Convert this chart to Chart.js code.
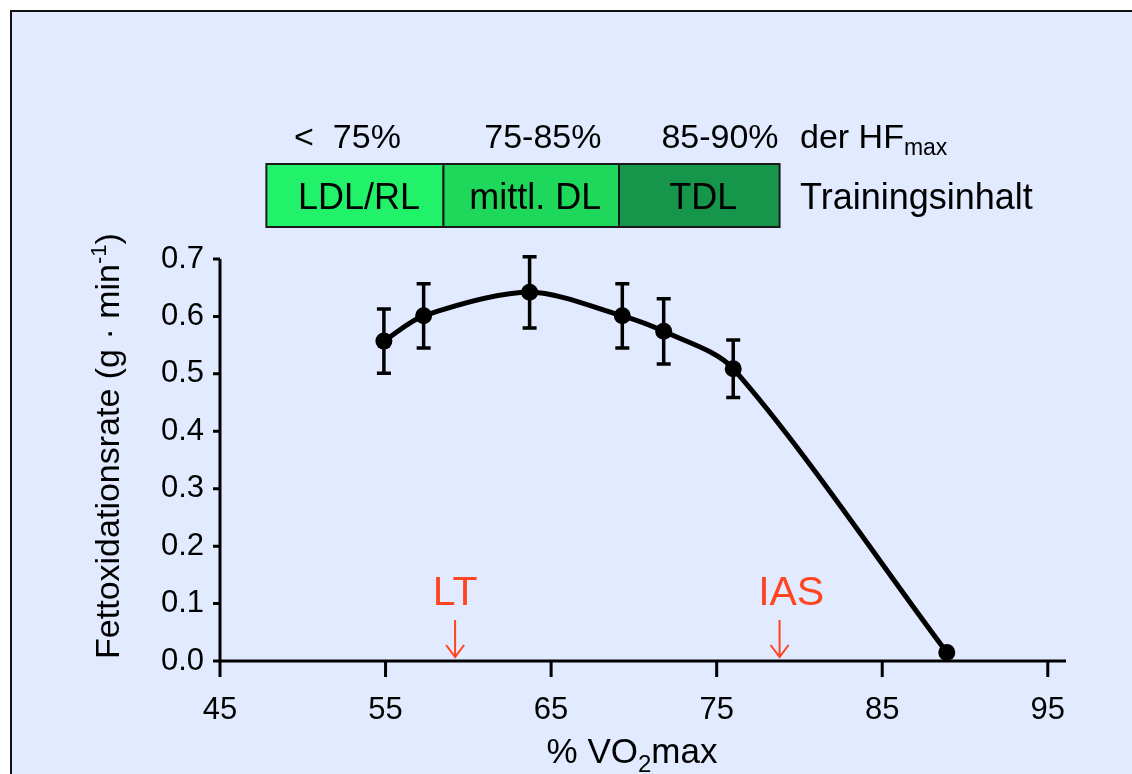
<!DOCTYPE html>
<html>
<head>
<meta charset="utf-8">
<script src="https://cdn.jsdelivr.net/npm/chart.js@4"></script>
<style>
  html, body { margin: 0; padding: 0; background: #fff; }
  #wrap { width: 1132px; height: 774px; }
</style>
</head>
<body>
<div id="wrap"><canvas id="fatChart" width="1132" height="774"></canvas></div>
<script>
// data
const vo2 = [54.9, 57.3, 63.7, 69.3, 71.8, 76.0, 88.9];
const fatOx = [0.557, 0.601, 0.642, 0.601, 0.574, 0.509, 0.015];
const fatSd = [0.056, 0.056, 0.062, 0.056, 0.057, 0.050, 0];
const xTicks = [45, 55, 65, 75, 85, 95];
const yTicks = [0, 0.1, 0.2, 0.3, 0.4, 0.5, 0.6, 0.7];

// training zones (x positions on the %VO2max axis)
const zoneEdges = [47.8, 58.5, 69.1, 78.8];
const zoneNames = ['LDL/RL', 'mittl. DL', 'TDL'];
const zoneHF = ['<  75%', '75-85%', '85-90%'];
const zoneHFx = [52.7, 64.5, 75.2];
const zoneColors = ['#22F26A', '#1ED85C', '#16964A'];

// thresholds
const thrNames = ['LT', 'IAS'];
const thrX = [59.2, 78.8];
const thrTextX = [59.2, 79.5];

const FONT = '"Liberation Sans", Arial, Helvetica, sans-serif';
const RED = '#FF4422';

function richText(ctx, parts, x, y, align) {
  let w = 0;
  parts.forEach(p => { ctx.font = p.size + 'px ' + FONT; p.w = ctx.measureText(p.t).width; w += p.w; });
  let cx = align === 'center' ? x - w / 2 : x;
  ctx.textAlign = 'left';
  ctx.textBaseline = 'alphabetic';
  parts.forEach(p => {
    ctx.font = p.size + 'px ' + FONT;
    ctx.fillText(p.t, cx, y + (p.dy || 0));
    cx += p.w;
  });
}

const framePlugin = {
  id: 'frame',
  beforeDraw(chart) {
    const ctx = chart.ctx;
    ctx.save();
    ctx.fillStyle = '#ffffff';
    ctx.fillRect(0, 0, chart.width, chart.height);
    ctx.fillStyle = '#E1EAFE';
    ctx.fillRect(11, 11, chart.width - 11, chart.height - 11);
    ctx.strokeStyle = '#111';
    ctx.lineWidth = 2;
    ctx.beginPath();
    ctx.moveTo(11, chart.height);
    ctx.lineTo(11, 11);
    ctx.lineTo(chart.width, 11);
    ctx.stroke();

    const x = chart.scales.x;
    // zone boxes
    const top = 164, bot = 227;
    for (let i = 0; i < zoneNames.length; i++) {
      const l = x.getPixelForValue(zoneEdges[i]);
      const r = x.getPixelForValue(zoneEdges[i + 1]);
      ctx.fillStyle = zoneColors[i];
      ctx.fillRect(l, top, r - l, bot - top);
      ctx.strokeStyle = '#1a1a1a';
      ctx.lineWidth = 2;
      ctx.strokeRect(l, top, r - l, bot - top);
      ctx.fillStyle = '#000';
      ctx.font = '36px ' + FONT;
      ctx.textAlign = 'center';
      ctx.textBaseline = 'alphabetic';
      ctx.fillText(zoneNames[i], (l + r) / 2 + 4, 209);
      ctx.font = '34px ' + FONT;
      ctx.fillText(zoneHF[i], x.getPixelForValue(zoneHFx[i]), 148);
    }
    ctx.fillStyle = '#000';
    richText(ctx, [{ t: 'der HF', size: 34 }, { t: 'max', size: 23, dy: 7 }], 800, 148, 'left');
    richText(ctx, [{ t: 'Trainingsinhalt', size: 36 }], 800, 209, 'left');

    // axis titles
    richText(ctx, [{ t: '% VO', size: 35 }, { t: '2', size: 24, dy: 9 }, { t: 'max', size: 35 }], 632, 763, 'center');
    ctx.save();
    ctx.translate(119, 446);
    ctx.rotate(-Math.PI / 2);
    richText(ctx, [{ t: 'Fettoxidationsrate (g \u00B7 min', size: 34 }, { t: '-1', size: 22, dy: -13 }, { t: ')', size: 34 }], 0, 0, 'center');
    ctx.restore();

    // thresholds
    ctx.fillStyle = RED;
    ctx.strokeStyle = RED;
    ctx.lineWidth = 2;
    for (let i = 0; i < thrNames.length; i++) {
      ctx.font = '41px ' + FONT;
      ctx.textAlign = 'center';
      ctx.fillText(thrNames[i], x.getPixelForValue(thrTextX[i]), 605);
      const ax = x.getPixelForValue(thrX[i]);
      ctx.beginPath();
      ctx.moveTo(ax, 620);
      ctx.lineTo(ax, 657);
      ctx.moveTo(ax - 9, 645);
      ctx.lineTo(ax, 657);
      ctx.lineTo(ax + 9, 645);
      ctx.stroke();
    }
    ctx.restore();
  },
  beforeDatasetsDraw(chart) {
    const ctx = chart.ctx;
    const x = chart.scales.x, y = chart.scales.y;
    const a = chart.chartArea;
    ctx.save();
    ctx.strokeStyle = '#000';
    ctx.lineWidth = 3;
    ctx.beginPath();
    ctx.moveTo(a.left, a.top);
    ctx.lineTo(a.left, a.bottom + 16);
    ctx.moveTo(a.left, a.bottom);
    ctx.lineTo(a.right, a.bottom);
    yTicks.forEach(v => {
      const py = y.getPixelForValue(v);
      ctx.moveTo(a.left - 7, py);
      ctx.lineTo(a.left, py);
    });
    xTicks.forEach(v => {
      const px = x.getPixelForValue(v);
      ctx.moveTo(px, a.bottom);
      ctx.lineTo(px, a.bottom + 16);
    });
    ctx.stroke();

    // error bars
    ctx.lineWidth = 3.5;
    ctx.beginPath();
    for (let i = 0; i < vo2.length; i++) {
      if (!fatSd[i]) continue;
      const px = x.getPixelForValue(vo2[i]);
      const y1 = y.getPixelForValue(fatOx[i] + fatSd[i]);
      const y2 = y.getPixelForValue(fatOx[i] - fatSd[i]);
      ctx.moveTo(px, y1); ctx.lineTo(px, y2);
      ctx.moveTo(px - 7, y1); ctx.lineTo(px + 7, y1);
      ctx.moveTo(px - 7, y2); ctx.lineTo(px + 7, y2);
    }
    ctx.stroke();
    ctx.restore();
  }
};

new Chart(document.getElementById('fatChart'), {
  type: 'line',
  data: {
    datasets: [{
      data: vo2.map((v, i) => ({ x: v, y: fatOx[i] })),
      borderColor: '#000',
      borderWidth: 5,
      tension: 0.3,
      pointRadius: 8.5,
      pointBackgroundColor: '#000',
      pointBorderWidth: 0,
      fill: false
    }]
  },
  options: {
    responsive: false,
    animation: false,
    layout: { padding: { left: 0, top: 259, right: 66, bottom: 0 } },
    plugins: { legend: { display: false }, tooltip: { enabled: false } },
    scales: {
      x: {
        type: 'linear',
        min: 45,
        max: 96.1,
        afterBuildTicks: s => { s.ticks = xTicks.map(v => ({ value: v })); },
        afterFit: s => { s.height = 113; },
        grid: { display: false, drawTicks: false },
        border: { display: false },
        ticks: { color: '#000', padding: 31, font: { family: FONT, size: 31 } }
      },
      y: {
        min: 0,
        max: 0.7,
        afterBuildTicks: s => { s.ticks = yTicks.map(v => ({ value: v })); },
        afterFit: s => { s.width = 220; },
        grid: { display: false, drawTicks: false },
        border: { display: false },
        ticks: { color: '#000', padding: 16, font: { family: FONT, size: 31 }, callback: v => v.toFixed(1) }
      }
    }
  },
  plugins: [framePlugin]
});
</script>
</body>
</html>
